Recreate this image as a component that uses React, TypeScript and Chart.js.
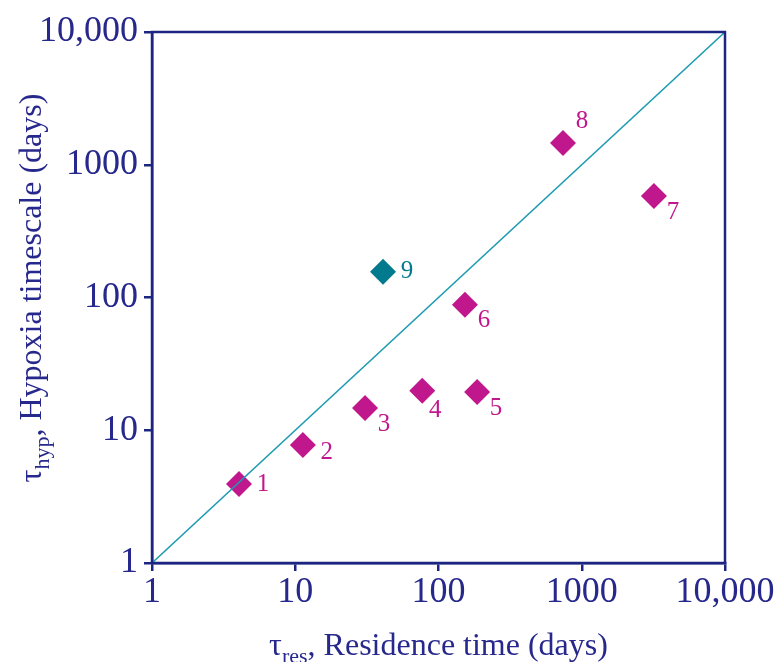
import React, { useEffect, useRef } from "react";
import { Chart, registerables } from "chart.js";

Chart.register(...registerables);

// ---- Data ----
const siteLabels = ["1", "2", "3", "4", "5", "6", "7", "8", "9"];
const residenceTime = [4.05, 11.3, 30.7, 77, 186, 153, 3190, 740, 41];
const hypoxiaTimescale = [3.94, 7.75, 14.7, 19.8, 19.4, 88, 582, 1460, 156];
const siteGroup = ["a", "a", "a", "a", "a", "a", "a", "a", "b"];
const oneToOneLine = [1, 10000];
const tickValues = [1, 10, 100, 1000, 10000];
const tickLabels = ["1", "10", "100", "1000", "10,000"];

// ---- Styles ----
const NAVY = "#1c2682";
const TEXT = "#27288c";
const MAGENTA = "#c0188c";
const TEAL_LINE = "#1d9bb0";
const TEAL_POINT = "#007a8c";
const groupColor: Record<string, string> = { a: MAGENTA, b: TEAL_POINT };
const labelPlacement = ["e", "ese", "se", "sse", "se", "se", "se", "ne", "e"];
const placementOffset: Record<string, [number, number]> = {
  e: [24, 0],
  ese: [24, 7],
  se: [19, 16],
  sse: [13, 20],
  ne: [19, -21],
};
const FONT = "'Liberation Serif', 'Times New Roman', serif";

function drawSubTitle(
  ctx: CanvasRenderingContext2D,
  cx: number,
  baseline: number,
  sub: string,
  rest: string
) {
  const big = `32px ${FONT}`;
  const small = `22px ${FONT}`;
  ctx.font = big;
  const wTau = ctx.measureText("τ").width;
  const wRest = ctx.measureText(rest).width;
  ctx.font = small;
  const wSub = ctx.measureText(sub).width;
  const total = wTau + wSub + wRest;
  let x = cx - total / 2;
  ctx.textAlign = "left";
  ctx.textBaseline = "alphabetic";
  ctx.fillStyle = TEXT;
  ctx.font = big;
  ctx.fillText("τ", x, baseline);
  x += wTau;
  ctx.font = small;
  ctx.fillText(sub, x, baseline + 8);
  x += wSub;
  ctx.font = big;
  ctx.fillText(rest, x, baseline);
}

const decorPlugin = {
  id: "decor",
  afterDraw(chart: any) {
    const { ctx, chartArea } = chart;
    ctx.save();
    // frame
    ctx.strokeStyle = NAVY;
    ctx.lineWidth = 2.5;
    ctx.strokeRect(
      chartArea.left,
      chartArea.top,
      chartArea.right - chartArea.left,
      chartArea.bottom - chartArea.top
    );
    // point labels
    const meta = chart.getDatasetMeta(1);
    ctx.font = `25px ${FONT}`;
    ctx.textAlign = "center";
    ctx.textBaseline = "middle";
    meta.data.forEach((pt: any, i: number) => {
      const off = placementOffset[labelPlacement[i]];
      ctx.fillStyle = groupColor[siteGroup[i]];
      ctx.fillText(siteLabels[i], pt.x + off[0], pt.y + off[1]);
    });
    // axis titles
    const cxX = (chartArea.left + chartArea.right) / 2;
    drawSubTitle(ctx, cxX, 655, "res", ", Residence time (days)");
    ctx.translate(41, 288);
    ctx.rotate(-Math.PI / 2);
    drawSubTitle(ctx, 0, 0, "hyp", ", Hypoxia timescale (days)");
    ctx.restore();
  },
};

export default function App() {
  const ref = useRef<HTMLCanvasElement | null>(null);
  useEffect(() => {
    document.body.style.margin = "0";
    const canvas = ref.current;
    if (!canvas) return;
    const axisCommon = (pos: "x" | "y") => ({
      type: "logarithmic" as const,
      min: 1,
      max: 10000,
      afterBuildTicks(scale: any) {
        scale.ticks = tickValues.map((v) => ({ value: v }));
      },
      afterFit(scale: any) {
        if (pos === "y") scale.width = 152;
        else scale.height = 99;
      },
      border: { display: true, color: NAVY, width: 2.5 },
      grid: {
        display: true,
        drawOnChartArea: false,
        drawTicks: true,
        tickLength: 8,
        color: NAVY,
        tickColor: NAVY,
        lineWidth: 2.5,
        tickWidth: 2.5,
      },
      ticks: {
        autoSkip: false,
        maxRotation: 0,
        minRotation: 0,
        color: TEXT,
        padding: pos === "y" ? 6 : 0,
        font: { family: FONT, size: 36 },
        callback: (_v: any, i: number) => tickLabels[i],
      },
      title: { display: false },
    });
    const chart = new Chart(canvas, {
      type: "scatter",
      data: {
        datasets: [
          {
            type: "line",
            data: oneToOneLine.map((v) => ({ x: v, y: v })),
            borderColor: TEAL_LINE,
            borderWidth: 1.5,
            pointRadius: 0,
            fill: false,
            order: 0,
          },
          {
            type: "scatter",
            data: residenceTime.map((x, i) => ({ x, y: hypoxiaTimescale[i] })),
            pointStyle: "rectRot",
            pointRadius: 13,
            pointHoverRadius: 13,
            pointBorderWidth: 0,
            pointBackgroundColor: siteGroup.map((g) => groupColor[g]),
            borderColor: siteGroup.map((g) => groupColor[g]),
            order: 1,
          },
        ],
      },
      options: {
        animation: false,
        responsive: true,
        maintainAspectRatio: false,
        layout: { padding: { left: 0, top: 32, right: 58, bottom: 0 } },
        plugins: {
          legend: { display: false },
          tooltip: { enabled: false },
          title: { display: false },
        },
        scales: {
          x: axisCommon("x"),
          y: axisCommon("y"),
        },
      } as any,
      plugins: [decorPlugin],
    });
    return () => chart.destroy();
  }, []);
  return (
    <div style={{ width: 783, height: 662, position: "relative", background: "#fff" }}>
      <canvas ref={ref} />
    </div>
  );
}
